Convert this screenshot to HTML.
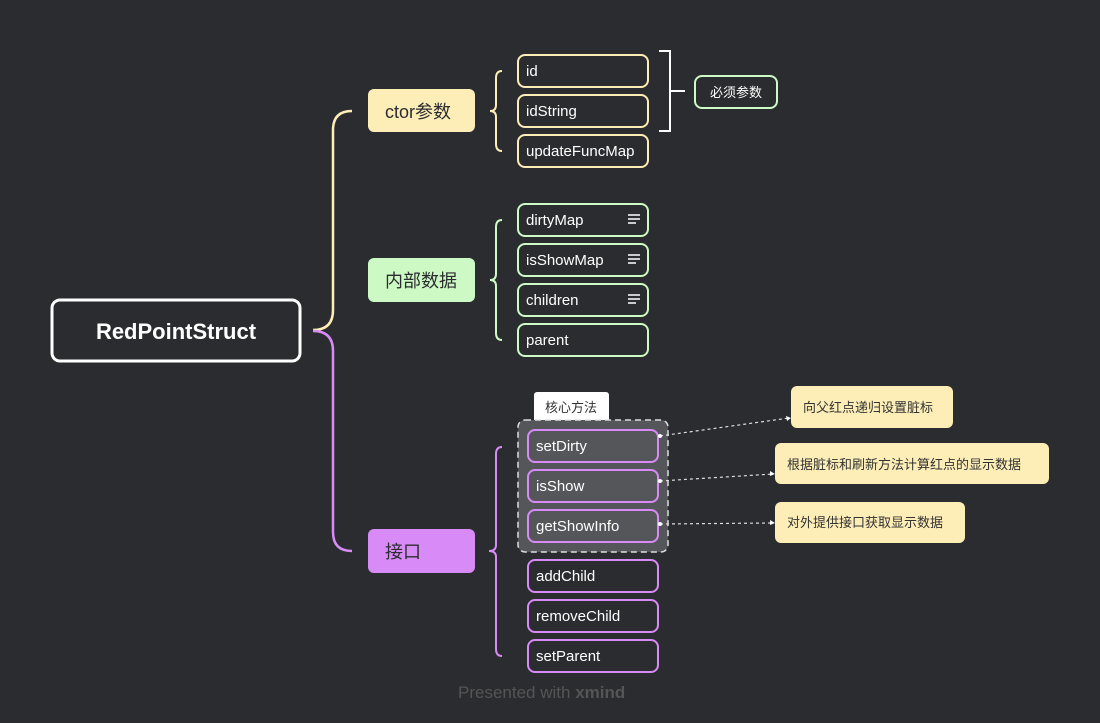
<!DOCTYPE html>
<html><head><meta charset="utf-8"><style>
html,body{margin:0;padding:0;background:#2b2c30;}
svg{display:block;font-family:"Liberation Sans","Noto Sans CJK SC",sans-serif;}
</style></head><body>
<svg width="1100" height="723" viewBox="0 0 1100 723" xmlns="http://www.w3.org/2000/svg">
<rect width="1100" height="723" fill="#2b2c30"/>
<!-- trunks -->
<path d="M313,330 Q333,330 333,310 L333,130 Q333,111 352,111" fill="none" stroke="#fdedb6" stroke-width="2.5"/>
<path d="M313,331 Q333,331 333,351 L333,532 Q333,551 352,551" fill="none" stroke="#d88bf7" stroke-width="2.5"/>
<!-- main -->
<rect x="52" y="300" width="248" height="61" rx="8" fill="#2b2c30" stroke="#fff" stroke-width="3"/>
<text x="176" y="339" font-size="22" font-weight="bold" fill="#fff" text-anchor="middle">RedPointStruct</text>
<!-- branches -->
<rect x="368" y="89" width="107" height="43" rx="6" fill="#fdedb6"/>
<text x="385" y="118" font-size="18" fill="#2b2c30">ctor参数</text>
<rect x="368" y="258" width="107" height="44" rx="6" fill="#cdfac4"/>
<text x="385" y="287" font-size="18" fill="#2b2c30">内部数据</text>
<rect x="368" y="529" width="107" height="44" rx="6" fill="#d88bf7"/>
<text x="385" y="558" font-size="18" fill="#2b2c30">接口</text>
<!-- braces -->
<g fill="none" stroke-width="2">
<path d="M502,71 Q496,71 496,78 L496,105 Q496,111 490,111 Q496,111 496,117 L496,144 Q496,151 502,151" stroke="#fdedb6"/>
<path d="M502,220 Q496,220 496,227 L496,274 Q496,280 490,280 Q496,280 496,286 L496,333 Q496,340 502,340" stroke="#cdfac4"/>
<path d="M502,447 Q496,447 496,454 L496,545 Q496,551 489,551 Q496,551 496,557 L496,649 Q496,656 502,656" stroke="#d88bf7"/>
</g>
<!-- ctor children -->
<g fill="#2b2c30" stroke="#fdedb6" stroke-width="2">
<rect x="518" y="55" width="130" height="32" rx="7"/>
<rect x="518" y="95" width="130" height="32" rx="7"/>
<rect x="518" y="135" width="130" height="32" rx="7"/>
</g>
<g fill="#fff" font-size="15">
<text x="526" y="76">id</text>
<text x="526" y="116">idString</text>
<text x="526" y="156">updateFuncMap</text>
</g>
<!-- bracket -->
<path d="M659,51 L670,51 L670,131 L659,131 M670,91 L685,91" fill="none" stroke="#fff" stroke-width="2"/>
<rect x="695" y="76" width="82" height="32" rx="7" fill="#2b2c30" stroke="#cdfac4" stroke-width="2"/>
<text x="736" y="97" font-size="13" fill="#fff" text-anchor="middle">必须参数</text>
<!-- internal -->
<g fill="#2b2c30" stroke="#cdfac4" stroke-width="2">
<rect x="518" y="204" width="130" height="32" rx="7"/>
<rect x="518" y="244" width="130" height="32" rx="7"/>
<rect x="518" y="284" width="130" height="32" rx="7"/>
<rect x="518" y="324" width="130" height="32" rx="7"/>
</g>
<g fill="#fff" font-size="15">
<text x="526" y="225">dirtyMap</text>
<text x="526" y="265">isShowMap</text>
<text x="526" y="305">children</text>
<text x="526" y="345">parent</text>
</g>
<g stroke="#fff" stroke-width="1.5">
<path d="M628,215 H640 M628,219 H640 M628,223 H636"/>
<path d="M628,255 H640 M628,259 H640 M628,263 H636"/>
<path d="M628,295 H640 M628,299 H640 M628,303 H636"/>
</g>
<!-- interface -->
<rect x="534" y="392" width="75" height="30" rx="3" fill="#fff"/>
<text x="571" y="412" font-size="13" fill="#333" text-anchor="middle">核心方法</text>
<rect x="518" y="420" width="150" height="132" rx="7" fill="#55565a" stroke="#ddd" stroke-width="1.5" stroke-dasharray="6,4"/>
<g stroke="#d88bf7" stroke-width="2">
<rect x="528" y="430" width="130" height="32" rx="7" fill="#55565a"/>
<rect x="528" y="470" width="130" height="32" rx="7" fill="#55565a"/>
<rect x="528" y="510" width="130" height="32" rx="7" fill="#55565a"/>
<rect x="528" y="560" width="130" height="32" rx="7" fill="#2b2c30"/>
<rect x="528" y="600" width="130" height="32" rx="7" fill="#2b2c30"/>
<rect x="528" y="640" width="130" height="32" rx="7" fill="#2b2c30"/>
</g>
<g fill="#fff" font-size="15">
<text x="536" y="451">setDirty</text>
<text x="536" y="491">isShow</text>
<text x="536" y="531">getShowInfo</text>
<text x="536" y="581">addChild</text>
<text x="536" y="621">removeChild</text>
<text x="536" y="661">setParent</text>
</g>
<!-- callouts -->
<g fill="none" stroke="#ddd" stroke-width="1.2" stroke-dasharray="3,3">
<path d="M660,436 L789,418"/>
<path d="M660,481 L773,474"/>
<path d="M660,524 L773,523"/>
</g>
<g fill="#fff">
<circle cx="660" cy="436" r="2"/><circle cx="660" cy="481" r="2"/><circle cx="660" cy="524" r="2"/>
<path d="M791,418 l-5,-2 l1,5z"/><path d="M775,474 l-5,-3 l0,5z"/><path d="M775,523 l-5,-3 l0,5z"/>
</g>
<g fill="#fdedb6">
<rect x="791" y="386" width="162" height="42" rx="6"/>
<rect x="775" y="443" width="274" height="41" rx="6"/>
<rect x="775" y="502" width="190" height="41" rx="6"/>
</g>
<g fill="#333" font-size="13">
<text x="803" y="412">向父红点递归设置脏标</text>
<text x="787" y="469">根据脏标和刷新方法计算红点的显示数据</text>
<text x="787" y="527">对外提供接口获取显示数据</text>
</g>
<text x="458" y="698" font-size="17" fill="#555">Presented with <tspan font-weight="bold">xmind</tspan></text>
</svg>
</body></html>
